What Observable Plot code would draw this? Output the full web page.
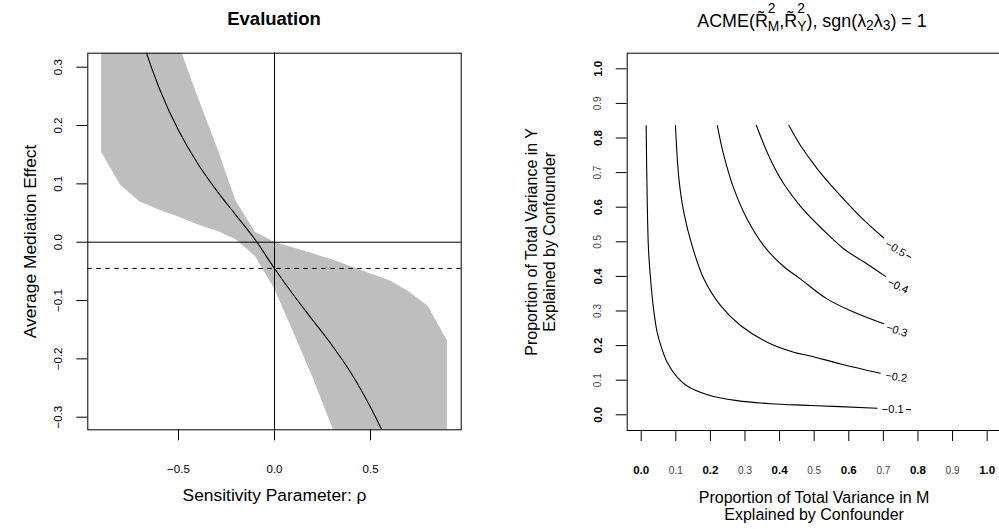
<!DOCTYPE html>
<html><head><meta charset="utf-8">
<script src="https://cdn.jsdelivr.net/npm/d3@7"></script>
<script src="https://cdn.jsdelivr.net/npm/@observablehq/plot@0.6"></script>
<style>
html,body{margin:0;padding:0;background:#fff;overflow:hidden;}
#wrap{position:relative;width:999px;height:529px;overflow:hidden;font-family:"Liberation Sans",Arial,Helvetica,sans-serif;}
#left,#right,#titles{position:absolute;top:0;}
#left{left:0;width:500px;}
#right{left:500px;width:502px;}
#titles{left:0;}
</style></head><body>
<div id="wrap">
<div id="left"></div>
<div id="right"></div>
<svg id="titles" width="999" height="40" font-family='"Liberation Sans", Arial, Helvetica, sans-serif'>
  <text x="274" y="25" text-anchor="middle" font-weight="bold" font-size="18.5">Evaluation</text>
  <text x="812" y="26.7" text-anchor="middle" font-size="17.9">ACME(R&#x303;<tspan font-size="13.8" dy="-14">2</tspan><tspan font-size="13.8" dx="-7.7" dy="18.5">M</tspan><tspan dy="-4.5">,R&#x303;</tspan><tspan font-size="13.8" dy="-14">2</tspan><tspan font-size="13.8" dx="-7.7" dy="18.5">Y</tspan><tspan dy="-4.5">), sgn(λ</tspan><tspan font-size="13.8" dy="3">2</tspan><tspan dy="-3">λ</tspan><tspan font-size="13.8" dy="3">3</tspan><tspan dy="-3">) = 1</tspan></text>
</svg>
</div>
<script>
const FONT = '"Liberation Sans", Arial, Helvetica, sans-serif';

// ---- Left panel data ----
const rho        = [-0.9,-0.8,-0.7,-0.6,-0.5,-0.4,-0.3,-0.2,-0.1,0,0.1,0.2,0.3,0.4,0.5,0.6,0.7,0.8,0.9];
const acme       = [0.75,0.50,0.36,0.264,0.192,0.135,0.088,0.046,0.004,-0.045,-0.091,-0.134,-0.177,-0.225,-0.283,-0.352,-0.445,-0.58,-0.85];
const acmeLower  = [0.154,0.097,0.069,0.055,0.043,0.030,0.019,0.004,-0.024,-0.080,-0.155,-0.232,-0.316,-0.40,-0.49,-0.58,-0.68,-0.80,-0.95];
const acmeUpper  = [1.0,0.75,0.58,0.45,0.341,0.25,0.164,0.070,0.017,0.000,-0.010,-0.020,-0.030,-0.042,-0.054,-0.066,-0.085,-0.110,-0.169];
const acmeAtRhoZero = -0.045;
const rhoTicks    = [-0.5, 0, 0.5];
const effectTicks = [-0.3,-0.2,-0.1,0,0.1,0.2,0.3];

// ---- Right panel data ----
const r2Ticks = [0,0.1,0.2,0.3,0.4,0.5,0.6,0.7,0.8,0.9,1];
const r2TicksBold = [0,0.2,0.4,0.6,0.8,1];
const r2TicksLight = [0.1,0.3,0.5,0.7,0.9];
const contourLevels = [-0.1,-0.2,-0.3,-0.4,-0.5];
const contour1M = [0.0143,0.0160,0.0180,0.0210,0.0270,0.0350,0.0460,0.0600,0.0750,0.1040,0.1330,0.1910,0.2770,0.3740,0.4890,0.6820];
const contour1Y = [0.836,0.700,0.585,0.480,0.393,0.311,0.239,0.190,0.152,0.109,0.083,0.058,0.041,0.032,0.027,0.019];
const contour2M = [0.099,0.109,0.123,0.147,0.181,0.229,0.287,0.364,0.441,0.489,0.576,0.691];
const contour2Y = [0.836,0.682,0.586,0.489,0.393,0.316,0.258,0.210,0.181,0.170,0.147,0.120];
const contour3M = [0.220,0.239,0.268,0.306,0.354,0.410,0.460,0.537,0.614,0.701];
const contour3Y = [0.836,0.749,0.653,0.566,0.489,0.430,0.393,0.335,0.297,0.263];
const contour4M = [0.333,0.364,0.403,0.451,0.489,0.518,0.585,0.653,0.706];
const contour4Y = [0.836,0.759,0.682,0.614,0.571,0.542,0.480,0.436,0.400];
const contour5M = [0.427,0.460,0.509,0.566,0.634,0.701];
const contour5Y = [0.836,0.779,0.711,0.644,0.572,0.511];
const tail1M = [0.766,0.778], tail1Y = [0.0155,0.0150];
const tail5M = [0.768,0.779], tail5Y = [0.461,0.455];
const labelM = [0.727,0.737,0.739,0.742,0.735];
const labelY = [0.014,0.109,0.244,0.372,0.480];
const labelAngle = [0, 8, 17, 25, 30];

const fmt1 = d3.format(".1f");

// ---- build tables ----
const band = rho.map((r, i) => ({rho: r, acme: acme[i], lower: acmeLower[i], upper: acmeUpper[i]}));

const cM = [contour1M, contour2M, contour3M, contour4M, contour5M];
const cY = [contour1Y, contour2Y, contour3Y, contour4Y, contour5Y];
const contours = [];
contourLevels.forEach((lev, k) => cM[k].forEach((m, i) => contours.push({level: lev, m, y: cY[k][i]})));
const tails = [];
tail1M.forEach((m, i) => tails.push({level: -0.1, m, y: tail1Y[i]}));
tail5M.forEach((m, i) => tails.push({level: -0.5, m, y: tail5Y[i]}));
const labels = contourLevels.map((lev, i) => ({level: lev, m: labelM[i], y: labelY[i], a: labelAngle[i]}));

const baseStyle = {fontFamily: FONT, background: "transparent", maxWidth: "none", overflow: "visible", color: "black"};

const leftPlot = Plot.plot({
  width: 500, height: 529,
  marginLeft: 87.3, marginRight: 39.3, marginTop: 52.7, marginBottom: 99.7,
  style: baseStyle,
  x: {domain: [-0.972, 0.972]},
  y: {domain: [-0.3216, 0.324]},
  marks: [
    Plot.areaY(band, {x: "rho", y1: "lower", y2: "upper", fill: "#BEBEBE", clip: true}),
    Plot.ruleX([0], {stroke: "black", strokeWidth: 1}),
    Plot.ruleY([0], {stroke: "black", strokeWidth: 1}),
    Plot.ruleY([acmeAtRhoZero], {stroke: "black", strokeWidth: 1, strokeDasharray: "4.5,4.5"}),
    Plot.line(band, {x: "rho", y: "acme", stroke: "black", strokeWidth: 1.1, curve: "catmull-rom", clip: true}),
    Plot.frame({stroke: "black", strokeWidth: 1}),
    Plot.axisX({ticks: rhoTicks, tickSize: 11, tickFormat: () => "", label: null, stroke: "black"}),
    Plot.text(rhoTicks, {x: d => d, frameAnchor: "bottom", dy: 43.2, text: d => fmt1(d), lineAnchor: "bottom", fontSize: 11.5, fill: "black"}),
    Plot.axisY({ticks: effectTicks, tickSize: 11, tickFormat: () => "", label: null, stroke: "black"}),
    Plot.text(effectTicks, {y: d => d, frameAnchor: "left", dx: -29, rotate: -90, text: d => fmt1(d), textAnchor: "middle", lineAnchor: "middle", fontSize: 11.5, fill: "black"}),
    Plot.text(["Sensitivity Parameter: ρ"], {frameAnchor: "bottom", dy: 71.2, text: d => d, lineAnchor: "bottom", fontSize: 17.4, fill: "black"}),
    Plot.text(["Average Mediation Effect"], {frameAnchor: "left", dx: -57.3, rotate: -90, text: d => d, textAnchor: "middle", lineAnchor: "middle", fontSize: 17.4, fill: "black"})
  ]
});
document.getElementById("left").append(leftPlot);

const rightPlot = Plot.plot({
  width: 502, height: 529,
  marginLeft: 126.7, marginRight: 1.5, marginTop: 52.7, marginBottom: 99,
  style: baseStyle,
  x: {domain: [-0.0405, 1.04]},
  y: {domain: [-0.0454, 1.0451]},
  marks: [
    Plot.line(contours, {x: "m", y: "y", z: "level", curve: "catmull-rom", stroke: "black", strokeWidth: 1.1}),
    Plot.line(tails, {x: "m", y: "y", z: "level", stroke: "black", strokeWidth: 1.1}),
    Plot.text(labels, {x: "m", y: "y", rotate: "a", text: d => fmt1(d.level), textAnchor: "middle", lineAnchor: "middle", fontSize: 11, fill: "black"}),
    Plot.frame({stroke: "black", strokeWidth: 1}),
    Plot.axisX({ticks: r2Ticks, tickSize: 11, tickFormat: () => "", label: null, stroke: "black"}),
    Plot.text(r2TicksBold, {x: d => d, frameAnchor: "bottom", dy: 43, text: d => fmt1(d), lineAnchor: "bottom", fontSize: 11.5, fontWeight: "bold", fill: "black"}),
    Plot.text(r2TicksLight, {x: d => d, frameAnchor: "bottom", dy: 43, text: d => fmt1(d), lineAnchor: "bottom", fontSize: 10, fill: "#444"}),
    Plot.axisY({ticks: r2Ticks, tickSize: 11, tickFormat: () => "", label: null, stroke: "black"}),
    Plot.text(r2TicksBold, {y: d => d, frameAnchor: "left", dx: -29, rotate: -90, text: d => fmt1(d), textAnchor: "middle", lineAnchor: "middle", fontSize: 11.5, fontWeight: "bold", fill: "black"}),
    Plot.text(r2TicksLight, {y: d => d, frameAnchor: "left", dx: -29, rotate: -90, text: d => fmt1(d), textAnchor: "middle", lineAnchor: "middle", fontSize: 10, fill: "#444"}),
    Plot.text(["Proportion of Total Variance in M"], {frameAnchor: "bottom", dy: 72, text: d => d, lineAnchor: "bottom", fontSize: 16, fill: "black"}),
    Plot.text(["Explained by Confounder"], {frameAnchor: "bottom", dy: 89, text: d => d, lineAnchor: "bottom", fontSize: 16, fill: "black"}),
    Plot.text(["Proportion of Total Variance in Y"], {frameAnchor: "left", dx: -95.7, rotate: -90, text: d => d, textAnchor: "middle", lineAnchor: "middle", fontSize: 16, fill: "black"}),
    Plot.text(["Explained by Confounder"], {frameAnchor: "left", dx: -77.7, rotate: -90, text: d => d, textAnchor: "middle", lineAnchor: "middle", fontSize: 16, fill: "black"})
  ]
});
document.getElementById("right").append(rightPlot);
</script>
</body></html>
